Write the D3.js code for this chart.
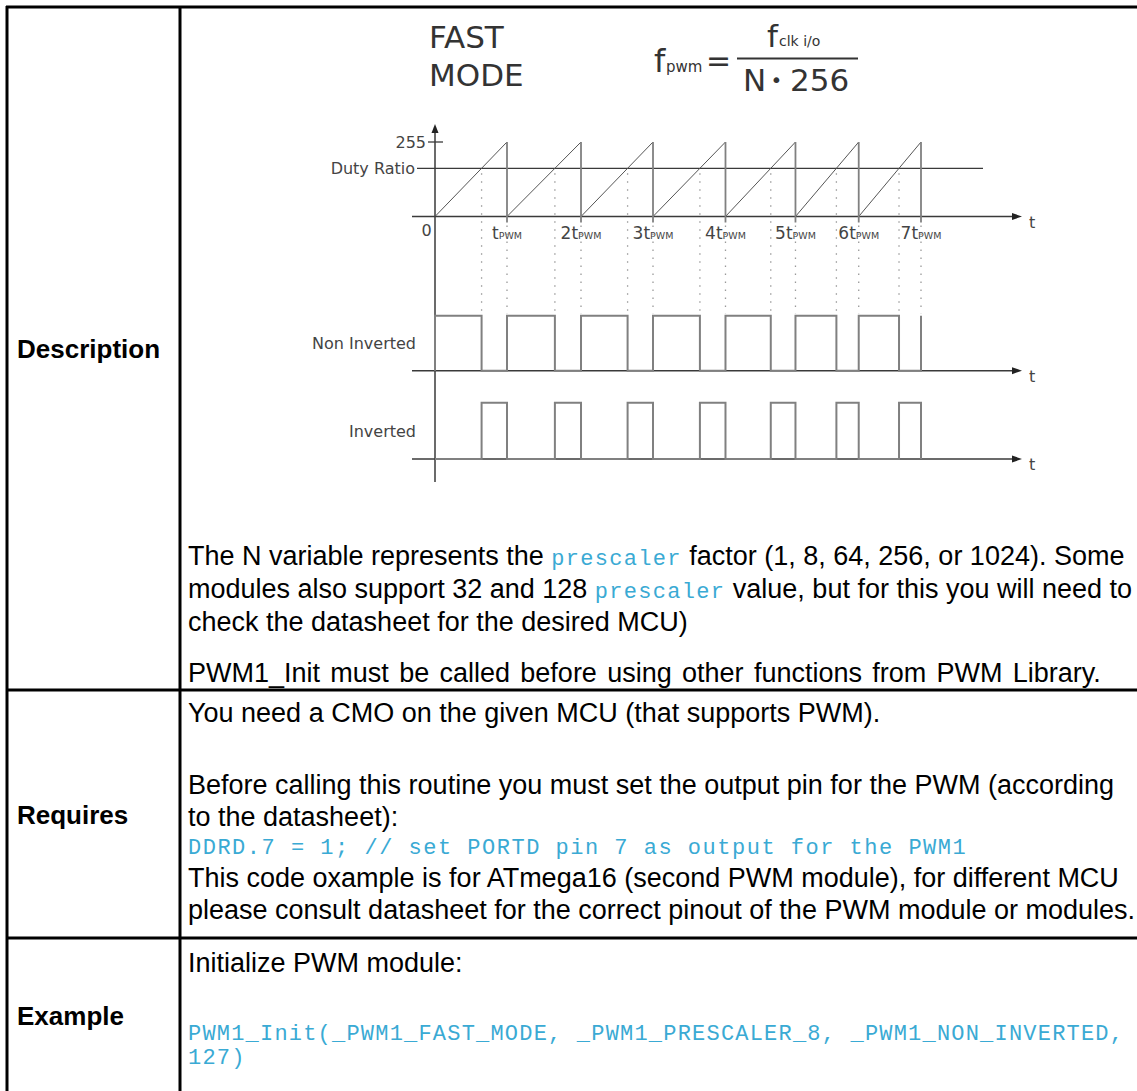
<!DOCTYPE html>
<html><head><meta charset="utf-8">
<script src="https://cdn.jsdelivr.net/npm/d3@7/dist/d3.min.js"></script>
<style>body{margin:0;background:#fff} text{white-space:pre}</style>
</head><body>
<svg id="c" width="1137" height="1091" xmlns="http://www.w3.org/2000/svg"></svg>
<script>
// ---------- data ----------
const counterMax = 255;
const dutyValue = 165;
const periodBounds = [0, 1.037, 2.103, 3.140, 4.184, 5.192, 6.103, 7.0];
const boundLabels = ["0", "t", "2t", "3t", "4t", "5t", "6t", "7t"];
const levelLabels = ["255", "Duty Ratio"];
const signalNames = ["Non Inverted", "Inverted"];
const rowLabels = ["Description", "Requires", "Example"];
const descLines = [
  [["The N variable represents the ", 0], ["prescaler", 1], [" factor (1, 8, 64, 256, or 1024). Some", 0]],
  [["modules also support 32 and 128 ", 0], ["prescaler", 1], [" value, but for this you will need to", 0]],
  [["check the datasheet for the desired MCU)", 0]],
  [["PWM1_Init must be called before using other functions from PWM Library.", 0]]
];
const reqLines = [
  [["You need a CMO on the given MCU (that supports PWM).", 0]],
  [["Before calling this routine you must set the output pin for the PWM (according", 0]],
  [["to the datasheet):", 0]],
  [["DDRD.7 = 1; // set PORTD pin 7 as output for the PWM1", 1]],
  [["This code oxample is for ATmega16 (second PWM module), for different MCU", 0]],
  [["please consult datasheet for the correct pinout of the PWM module or modules.", 0]]
];
const exLines = [
  [["Initialize PWM module:", 0]],
  [["PWM1_Init(_PWM1_FAST_MODE, _PWM1_PRESCALER_8, _PWM1_NON_INVERTED,", 1]],
  [["127)", 1]]
];

// ---------- layout ----------
const svg = d3.select("#c");
const W = 1137, H = 1091;
const colX = 180, rowY = [690, 938];
const bodyFont = "'Liberation Sans', Arial, sans-serif";
const monoFont = "'Liberation Mono', 'Courier New', monospace";
const diaFont = "'DejaVu Sans', Verdana, sans-serif";
const codeColor = "#3aaad4";

// table borders
const border = svg.append("g").attr("stroke", "#000").attr("stroke-width", 3);
border.append("line").attr("x1", 6).attr("x2", W).attr("y1", 7).attr("y2", 7);
border.append("line").attr("x1", 7).attr("x2", 7).attr("y1", 6).attr("y2", H);
border.append("line").attr("x1", colX).attr("x2", colX).attr("y1", 6).attr("y2", H);
rowY.forEach(y => border.append("line").attr("x1", 6).attr("x2", W).attr("y1", y).attr("y2", y));

// row labels
const labelY = [358, 824, 1025];
rowLabels.forEach((l, i) => svg.append("text").attr("x", 17).attr("y", labelY[i])
  .attr("font-family", bodyFont).attr("font-weight", "bold").attr("font-size", 26).attr("fill", "#000").text(l));

function writeLines(lines, ys, spacing, codeSpacing) {
  lines.forEach((parts, i) => {
    const t = svg.append("text").attr("x", 188).attr("y", ys[i]);
    if (spacing && spacing[i]) t.attr("word-spacing", spacing[i]);
    parts.forEach(([s, code]) => {
      const sp = t.append("tspan").attr("font-family", code ? monoFont : bodyFont)
        .attr("font-size", code ? 22 : 27).attr("fill", code ? codeColor : "#000").text(s);
      if (code) sp.attr("letter-spacing", codeSpacing && codeSpacing[i] ? codeSpacing[i] : 1.3);
    });
  });
}
writeLines(descLines, [565, 598, 631, 682], [0, 0, 0, 2.8]);
writeLines(reqLines, [722, 794, 826, 854, 887, 919], null, [0, 0, 0, 1.5]);
writeLines(exLines, [972, 1040, 1064], null, [0, 1.2, 1.2]);

// ---------- header ----------
const hd = svg.append("g").attr("font-family", diaFont).attr("fill", "#333");
hd.append("text").attr("x", 429).attr("y", 48).attr("font-size", 31).text("FAST");
hd.append("text").attr("x", 429).attr("y", 86).attr("font-size", 31).text("MODE");
hd.append("text").attr("x", 654).attr("y", 72).attr("font-size", 32).text("f");
hd.append("text").attr("x", 666).attr("y", 72).attr("font-size", 15).text("pwm");
hd.append("text").attr("x", 706).attr("y", 71).attr("font-size", 30).text("=");
hd.append("line").attr("x1", 737).attr("x2", 858).attr("y1", 58.5).attr("y2", 58.5).attr("stroke", "#333").attr("stroke-width", 2.2);
hd.append("text").attr("x", 767).attr("y", 47).attr("font-size", 31).text("f");
hd.append("text").attr("x", 779).attr("y", 46).attr("font-size", 14).text("clk i/o");
hd.append("text").attr("x", 743).attr("y", 90.5).attr("font-size", 31).text("N");
hd.append("text").attr("x", 776.5).attr("y", 87).attr("font-size", 20).attr("text-anchor", "middle").text("•");
hd.append("text").attr("x", 790).attr("y", 90.5).attr("font-size", 31).text("256");

// ---------- diagram ----------
const x = d3.scaleLinear().domain([0, 7]).range([435, 921]);
const ySaw = d3.scaleLinear().domain([0, counterMax]).range([216.5, 142]);
const yNon = d3.scaleLinear().domain([0, 1]).range([370.7, 315.7]);
const yInv = d3.scaleLinear().domain([0, 1]).range([459, 402.7]);
const periods = d3.pairs(periodBounds).map(([s, e]) => ({s, e, c: s + (e - s) * dutyValue / counterMax}));

const dg = svg.append("g");
const axisColor = "#3a3a3a";
function arrowRight(y) {
  dg.append("line").attr("x1", 412).attr("x2", 1014).attr("y1", y).attr("y2", y).attr("stroke", axisColor).attr("stroke-width", 1.5);
  dg.append("path").attr("d", `M1022,${y} L1012,${y - 3.5} L1012,${y + 3.5} Z`).attr("fill", "#222");
  dg.append("text").attr("x", 1029).attr("y", y + 11).attr("font-family", diaFont).attr("font-size", 16).attr("fill", "#444").text("t");
}
// dotted guides
const dots = dg.append("g").attr("stroke", "#9a9a9a").attr("stroke-width", 1.3).attr("stroke-dasharray", "1.5,6.5");
periods.forEach(p => {
  dots.append("line").attr("x1", x(p.c)).attr("x2", x(p.c)).attr("y1", ySaw(dutyValue) + 5).attr("y2", yNon(1) - 2);
  dots.append("line").attr("x1", x(p.e)).attr("x2", x(p.e)).attr("y1", ySaw(0) + 9).attr("y2", yNon(1) - 2);
});

// vertical axis
dg.append("line").attr("x1", 435).attr("x2", 435).attr("y1", 131).attr("y2", 482).attr("stroke", axisColor).attr("stroke-width", 1.5);
dg.append("path").attr("d", "M435,124 L431.5,133 L438.5,133 Z").attr("fill", "#222");

// level lines
dg.append("line").attr("x1", 428).attr("x2", 443).attr("y1", ySaw(counterMax)).attr("y2", ySaw(counterMax)).attr("stroke", axisColor).attr("stroke-width", 1.3);
dg.append("line").attr("x1", 417).attr("x2", 983).attr("y1", ySaw(dutyValue)).attr("y2", ySaw(dutyValue)).attr("stroke", axisColor).attr("stroke-width", 1.3);
const lbl = dg.append("g").attr("font-family", diaFont).attr("font-size", 16).attr("fill", "#444").attr("text-anchor", "end");
lbl.append("text").attr("x", 426).attr("y", ySaw(counterMax) + 6).text(levelLabels[0]);
lbl.append("text").attr("x", 415).attr("y", ySaw(dutyValue) + 6).text(levelLabels[1]);
lbl.append("text").attr("x", 416).attr("y", (yNon(0) + yNon(1)) / 2 + 6).text(signalNames[0]);
lbl.append("text").attr("x", 416).attr("y", (yInv(0) + yInv(1)) / 2 + 6).text(signalNames[1]);

arrowRight(ySaw(0));
arrowRight(yNon(0));
arrowRight(yInv(0));

// sawtooth
const line = d3.line();
periods.forEach(p => dg.append("path").attr("d", line([[x(p.s), ySaw(0)], [x(p.e), ySaw(counterMax)]]))
  .attr("stroke", "#555").attr("stroke-width", 1).attr("fill", "none"));
periods.forEach(p => dg.append("line").attr("x1", x(p.e)).attr("x2", x(p.e)).attr("y1", ySaw(counterMax)).attr("y2", ySaw(0) + 6)
  .attr("stroke", "#808080").attr("stroke-width", 1.8));

// tick labels
const tl = dg.append("g").attr("font-family", diaFont).attr("fill", "#444");
tl.append("text").attr("x", 426.5).attr("y", 236).attr("font-size", 16).attr("text-anchor", "middle").text(boundLabels[0]);
periodBounds.slice(1).forEach((b, i) => {
  const t = tl.append("text").attr("x", x(b)).attr("y", 239).attr("text-anchor", "middle");
  t.append("tspan").attr("font-size", 17).text(boundLabels[i + 1]);
  t.append("tspan").attr("font-size", 9.5).text("PWM");
});

// pulses
const nonPts = [];
periods.forEach(p => { nonPts.push([p.s, 0], [p.s, 1], [p.c, 1], [p.c, 0]); });
nonPts.push([7, 0], [7, 1]);
dg.append("path").attr("d", line(nonPts.map(([t, v]) => [x(t), yNon(v)])))
  .attr("stroke", "#808080").attr("stroke-width", 2).attr("fill", "none");
const invPts = [[0, 0]];
periods.forEach(p => { invPts.push([p.c, 0], [p.c, 1], [p.e, 1], [p.e, 0]); });
dg.append("path").attr("d", line(invPts.map(([t, v]) => [x(t), yInv(v)])))
  .attr("stroke", "#808080").attr("stroke-width", 2).attr("fill", "none");
</script>
</body></html>
